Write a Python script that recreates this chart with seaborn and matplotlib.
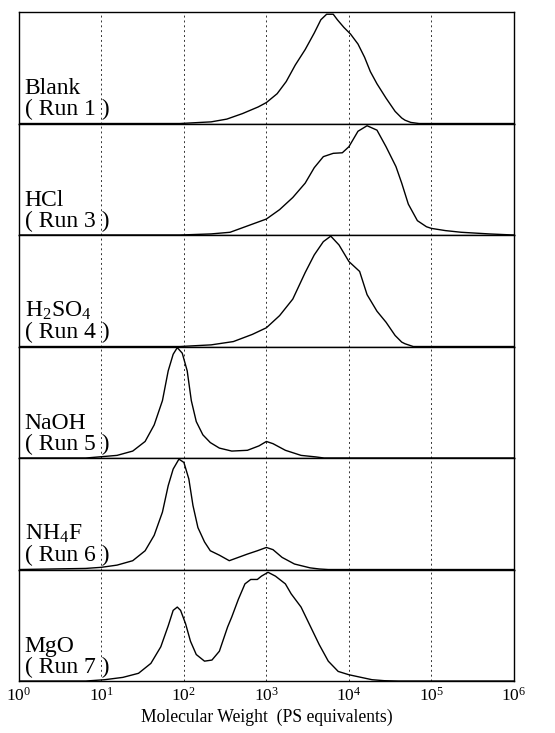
import numpy as np
import pandas as pd
import seaborn as sns
import matplotlib.pyplot as plt

# log10(MW) positions and normalised detector response
runs = ["Blank\n( Run 1 )", "HCl\n( Run 3 )", "H$_2$SO$_4$\n( Run 4 )",
        "NaOH\n( Run 5 )", "NH$_4$F\n( Run 6 )", "MgO\n( Run 7 )"]

blank_logm = [0.0, 1.95, 2.33, 2.52, 2.71, 2.90, 3.0, 3.13, 3.24, 3.35, 3.47, 3.58, 3.66, 3.73,
              3.81, 3.86, 3.94, 4.02, 4.11, 4.19, 4.26, 4.34, 4.45, 4.56, 4.64, 4.68, 4.75, 4.85, 6.0]
blank_h = [0.0, 0.0, 0.015, 0.04, 0.09, 0.15, 0.19, 0.27, 0.38, 0.53, 0.67, 0.82, 0.94, 0.99,
           0.99, 0.94, 0.87, 0.81, 0.72, 0.6, 0.47, 0.36, 0.23, 0.11, 0.05, 0.03, 0.01, 0.0, 0.0]

hcl_logm = [0.0, 1.95, 2.33, 2.56, 2.78, 3.0, 3.16, 3.32, 3.47, 3.58, 3.69, 3.81, 3.92, 4.0,
            4.11, 4.22, 4.34, 4.45, 4.57, 4.64, 4.72, 4.83, 4.94, 5.0, 5.17, 5.36, 5.7, 6.0]
hcl_h = [0.0, 0.0, 0.01, 0.025, 0.085, 0.145, 0.23, 0.34, 0.47, 0.61, 0.71, 0.74, 0.745, 0.8,
         0.94, 0.99, 0.95, 0.8, 0.62, 0.47, 0.28, 0.13, 0.075, 0.06, 0.04, 0.025, 0.01, 0.0]

h2so4_logm = [0.0, 1.95, 2.33, 2.6, 2.83, 3.0, 3.16, 3.32, 3.47, 3.58, 3.69, 3.78, 3.88, 4.0,
              4.13, 4.22, 4.34, 4.45, 4.56, 4.64, 4.68, 4.78, 6.0]
h2so4_h = [0.0, 0.0, 0.015, 0.045, 0.11, 0.17, 0.28, 0.43, 0.67, 0.83, 0.95, 1.0, 0.92, 0.77,
           0.68, 0.47, 0.32, 0.22, 0.1, 0.04, 0.025, 0.0, 0.0]

naoh_logm = [0.0, 0.81, 1.0, 1.19, 1.38, 1.53, 1.64, 1.74, 1.81, 1.87, 1.92, 1.98, 2.04, 2.09,
             2.15, 2.23, 2.32, 2.43, 2.58, 2.77, 2.91, 3.0, 3.08, 3.23, 3.42, 3.6, 3.7, 6.0]
naoh_h = [0.0, 0.0, 0.012, 0.024, 0.063, 0.15, 0.3, 0.52, 0.79, 0.94, 1.0, 0.95, 0.79, 0.52,
          0.33, 0.21, 0.14, 0.09, 0.063, 0.07, 0.11, 0.15, 0.13, 0.07, 0.024, 0.01, 0.0, 0.0]

nh4f_logm = [0.0, 0.81, 1.0, 1.19, 1.38, 1.53, 1.64, 1.74, 1.81, 1.87, 1.94, 2.0, 2.06, 2.11,
             2.17, 2.25, 2.32, 2.43, 2.55, 2.66, 2.77, 2.89, 3.0, 3.08, 3.19, 3.34, 3.53, 3.64,
             3.75, 6.0]
nh4f_h = [0.0, 0.01, 0.02, 0.04, 0.08, 0.17, 0.31, 0.52, 0.76, 0.91, 1.0, 0.97, 0.82, 0.58,
          0.38, 0.25, 0.17, 0.13, 0.08, 0.11, 0.14, 0.17, 0.2, 0.18, 0.11, 0.05, 0.015, 0.005,
          0.0, 0.0]

mgo_logm = [0.0, 0.81, 1.04, 1.26, 1.45, 1.6, 1.72, 1.81, 1.87, 1.92, 1.96, 2.02, 2.08, 2.15,
            2.25, 2.34, 2.43, 2.53, 2.58, 2.66, 2.74, 2.81, 2.89, 2.94, 3.02, 3.11, 3.23, 3.3,
            3.42, 3.53, 3.64, 3.75, 3.87, 4.0, 4.13, 4.28, 4.43, 4.6, 6.0]
mgo_h = [0.0, 0.0, 0.012, 0.033, 0.07, 0.16, 0.31, 0.5, 0.64, 0.67, 0.64, 0.52, 0.36, 0.24,
         0.18, 0.19, 0.27, 0.49, 0.58, 0.74, 0.88, 0.92, 0.92, 0.95, 0.985, 0.95, 0.88, 0.79,
         0.67, 0.5, 0.33, 0.18, 0.087, 0.057, 0.036, 0.012, 0.003, 0.0, 0.0]

series = [(blank_logm, blank_h), (hcl_logm, hcl_h), (h2so4_logm, h2so4_h),
          (naoh_logm, naoh_h), (nh4f_logm, nh4f_h), (mgo_logm, mgo_h)]

sns.set_theme(style="white")
plt.rcParams['font.family'] = ['Liberation Serif', 'DejaVu Serif']
plt.rcParams['mathtext.fontset'] = 'custom'
plt.rcParams['mathtext.rm'] = 'Liberation Serif'
plt.rcParams['mathtext.it'] = 'Liberation Serif:italic'

fig, axes = plt.subplots(len(runs), 1, figsize=(5.55, 7.33), dpi=100, sharex=True)
fig.subplots_adjust(left=0.034, right=0.926, top=0.9836, bottom=0.0709, hspace=0)

for ax, label, (logm, h) in zip(axes, runs, series):
    df = pd.DataFrame({"mw": 10 ** np.array(logm), "h": h})
    sns.lineplot(data=df, x="mw", y="h", ax=ax, color="black", linewidth=1.0)
    ax.set_xscale("log")
    ax.set_xlim(1, 1e6)
    ax.set_ylim(0, 1.01)
    ax.set_yticks([])
    ax.set_ylabel("")
    ax.set_xlabel("")
    for d in range(1, 6):
        ax.axvline(10 ** d, color="black", linestyle=(0, (2, 3)), linewidth=0.7, alpha=0.8)
    for s in ax.spines.values():
        s.set_color("black")
        s.set_linewidth(1.0)
    ax.tick_params(axis="x", which="both", length=0)
    ax.text(0.012, 0.03, label, transform=ax.transAxes, ha="left", va="bottom",
            fontsize=17, linespacing=1.0, color="black")

axes[-1].set_xticks([10 ** d for d in range(7)])
axes[-1].tick_params(axis="x", labelsize=12.5, pad=4, colors="black")
axes[-1].set_xlabel("Molecular Weight  (PS equivalents)", fontsize=12.7, labelpad=3, color="black")

fig.savefig("out.png", dpi=100)
